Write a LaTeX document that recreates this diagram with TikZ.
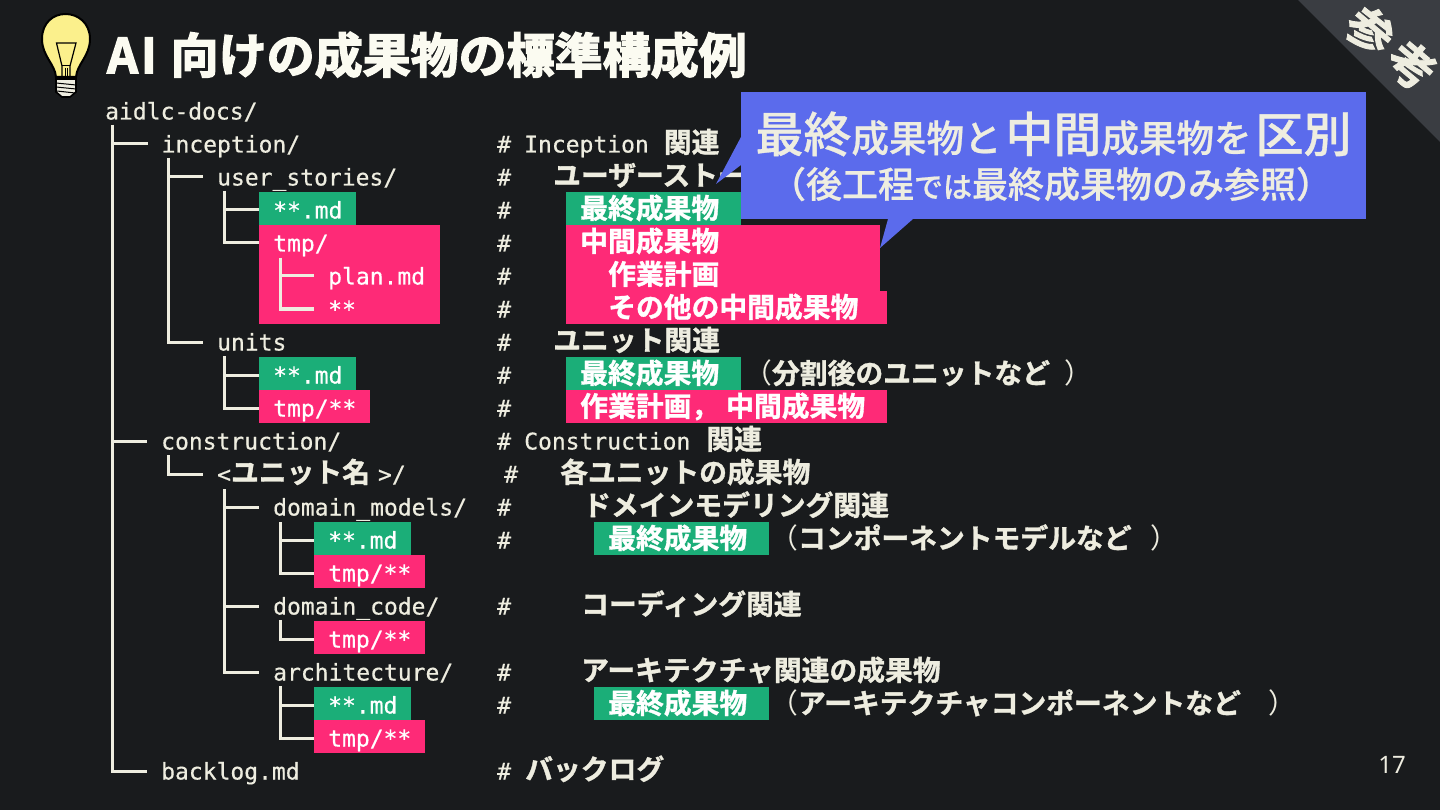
\documentclass[tikz,border=0pt]{standalone}
\usepackage{fontspec}
\usetikzlibrary{positioning}
\setmonofont[FakeBold=0.5]{DejaVu Sans Mono}
\newfontfamily\jpfont[FakeBold=1.2]{Noto Sans CJK JP Bold}
\newfontfamily\jplight{Noto Sans CJK JP}
\newfontfamily\jpcorner[FakeBold=2]{Noto Sans CJK JP Bold}
\newfontfamily\jptitle[FakeBold=3]{Noto Sans CJK JP Bold}
\newfontfamily\jpnote[FakeBold=0.7]{Noto Sans CJK JP Medium}
\newfontfamily\numfont{Noto Sans}
\newcommand{\jp}[1]{{\jpfont\fontsize{27.8}{33}\selectfont #1}}
\newcommand{\jpparen}[1]{{\jplight\fontsize{27.8}{33}\selectfont #1}}
\newcommand{\bignote}[1]{{\fontsize{48}{48}\selectfont #1}}
\newcommand{\branch}[2]{\draw[tree] (#1) |- ([yshift=-1.5pt]#2.west);}
\definecolor{slide}{HTML}{191B1D}
\definecolor{cream}{HTML}{EEEDE0}
\definecolor{titlecol}{HTML}{FBFBF1}
\definecolor{finalgreen}{HTML}{1BAE78}
\definecolor{tmppink}{HTML}{FE2A77}
\definecolor{notecol}{HTML}{5B6BEC}
\definecolor{cornercol}{HTML}{3A3D42}
\definecolor{bulbcol}{HTML}{FBF08C}
\tikzset{
  row/.style = {anchor=west, yshift=1.5pt, inner xsep=14pt, inner ysep=0pt, text height=26.5pt, text depth=6.5pt,
    text=cream, font=\ttfamily\fontsize{23}{33}\selectfont},
  finalbox/.style = {row, fill=finalgreen, text=white},
  tmpbox/.style = {row, fill=tmppink, text=white},
  tree/.style = {draw=cream, line width=3pt, line cap=butt, line join=miter},
  notetext/.style = {text=cream, inner sep=0pt, font=\jpnote\fontsize{37.5}{37.5}\selectfont},
}
\begin{document}
\begin{tikzpicture}[x=1pt, y=-1pt]
  \useasboundingbox (0,0) rectangle (1440,810);
  \fill[slide] (0,0) rectangle (1440,810);

  % corner
  \fill[cornercol] (1298,0) -- (1440,0) -- (1440,142) -- cycle;
  \node[text=cream, inner sep=0pt, rotate=-40, font=\jpcorner\fontsize{46}{46}\selectfont] (corner) at (1391,48) {参\hspace{8pt}考};

  % bulb
  \draw[black, line width=2pt, fill=bulbcol] (56,77) .. controls (55,64) and (42,56) .. (42,39)
    .. controls (42,23) and (53,14) .. (65.5,14) .. controls (78,14) and (90,23) .. (90,39)
    .. controls (90,56) and (77,64) .. (76,77) -- cycle;
  \draw[black, line width=1.2pt] (62,77) -- (62,66) -- (56.5,43) -- (76,43) -- (70,66) -- (70,77);
  \draw[black, line width=1pt] (62,66) -- (70,66) (65,68) -- (65,77) (67.5,68) -- (67.5,77);
  \draw[black, line width=1.6pt, fill=cream] (56,79) -- (76,79) -- (76,92) -- (70,97) -- (62,97) -- (56,92) -- cycle;
  \draw[black, line width=1pt] (56,83) -- (76,85) (56,87) -- (76,89) (57,91) -- (75,93);

  % title
  \node[anchor=west, inner sep=0pt, text=titlecol, font=\jptitle\fontsize{48}{48}\selectfont] (title) at (107,55) {A\kern3pt I\hspace{3pt} 向けの成果物の標準構成例};

  % file tree
  \node[row] (root) at (91,111) {aidlc-docs/};
  \node[row] (inception) at (147.5,144) {inception/};
  \node[row] (stories) at (203,177) {user\_stories/};
  \node[finalbox] (storiesmd) at (259,210) {**.md};
  \fill[tmppink] (259,225) rectangle (440,324);
  \node[row, text=white] (storiestmp) at (259,243) {tmp/};
  \node[row, text=white] (plan) at (314,276) {plan.md};
  \node[row, text=white] (other) at (314,309) {**};
  \node[row] (units) at (203,342) {units};
  \node[finalbox] (unitsmd) at (259,375) {**.md};
  \node[tmpbox] (unitstmp) at (259,408) {tmp/**};
  \node[row] (construction) at (147,441) {construction/};
  \node[row] (unitname) at (203,474) {<\jp{ユニット名}\hspace{8pt}>/};
  \node[row] (models) at (259,507) {domain\_models/};
  \node[finalbox] (modelsmd) at (314,540) {**.md};
  \node[tmpbox] (modelstmp) at (314,573) {tmp/**};
  \node[row] (code) at (259,606) {domain\_code/};
  \node[tmpbox] (codetmp) at (314,639) {tmp/**};
  \node[row] (arch) at (259,672) {architecture/};
  \node[finalbox] (archmd) at (314,705) {**.md};
  \node[tmpbox] (archtmp) at (314,738) {tmp/**};
  \node[row] (backlog) at (147,771) {backlog.md};

  \coordinate (rootstem) at (112,125);
  \coordinate (inceptionstem) at (168,158);
  \coordinate (storiesstem) at (224,191);
  \coordinate (tmpstem) at (280,258);
  \coordinate (unitsstem) at (224,356);
  \coordinate (constructionstem) at (168,455);
  \coordinate (namestem) at (224,489);
  \coordinate (modelsstem) at (280,522);
  \coordinate (codestem) at (280,620);
  \coordinate (archstem) at (280,686);

  \branch{rootstem}{inception}
  \branch{rootstem}{construction}
  \branch{rootstem}{backlog}
  \branch{inceptionstem}{stories}
  \branch{inceptionstem}{units}
  \branch{storiesstem}{storiesmd}
  \branch{storiesstem}{storiestmp}
  \branch{tmpstem}{plan}
  \branch{tmpstem}{other}
  \branch{unitsstem}{unitsmd}
  \branch{unitsstem}{unitstmp}
  \branch{constructionstem}{unitname}
  \branch{namestem}{models}
  \branch{namestem}{code}
  \branch{namestem}{arch}
  \branch{modelsstem}{modelsmd}
  \branch{modelsstem}{modelstmp}
  \branch{codestem}{codetmp}
  \branch{archstem}{archmd}
  \branch{archstem}{archtmp}

  % comments
  \foreach \y in {144,177,210,243,276,309,342,375,408,441,507,540,606,672,705,771}
    \node[row] (hash\y) at (483,\y) {\#};
  \node[row] (hash474) at (490,474) {\#};

  \node[row] (inceptionnote) at (510,144) {Inception\hspace{15pt}\jp{関連}};
  \node[row] (storiesnote) at (539,177) {\jp{ユーザーストー}};
  \node[finalbox, text width=147pt] (finalnote) at (566,210) {\jp{最終成果物}};
  \node[tmpbox, text width=286pt] (midnote) at (566,243) {\jp{中間成果物}};
  \node[tmpbox, text width=286pt] (plannote) at (566,276) {\hspace{28pt}\jp{作業計画}};
  \node[tmpbox, text width=293pt] (othernote) at (566,309) {\hspace{28pt}\jp{その他の中間成果物}};
  \node[row] (unitsnote) at (539,342) {\jp{ユニット関連}};
  \node[finalbox, text width=147pt] (finalunits) at (566,375) {\jp{最終成果物}};
  \node[row] (finalunitsex) at (730,375) {\jpparen{（}\jp{分割後のユニットなど}\hspace{14pt}\jpparen{）}};
  \node[tmpbox, text width=293pt] (tmpunits) at (566,408) {\jp{作業計画，\hspace{7pt}中間成果物}};
  \node[row] (constructionnote) at (510,441) {Construction\hspace{16pt}\jp{関連}};
  \node[row] (namenote) at (546,474) {\jp{各ユニットの成果物}};
  \node[row] (modelsnote) at (569,507) {\jp{ドメインモデリング関連}};
  \node[finalbox, text width=147pt] (finalmodels) at (594,540) {\jp{最終成果物}};
  \node[row] (finalmodelsex) at (756,540) {\jpparen{（}\jp{コンポーネントモデルなど}\hspace{19pt}\jpparen{）}};
  \node[row] (codenote) at (567,606) {\jp{コーディング関連}};
  \node[row] (archnote) at (567,672) {\jp{アーキテクチャ関連の成果物}};
  \node[finalbox, text width=147pt] (finalarch) at (594,705) {\jp{最終成果物}};
  \node[row] (finalarchex) at (756,705) {\jpparen{（}\jp{アーキテクチャコンポーネントなど}\hspace{28pt}\jpparen{）}};
  \node[row] (backlognote) at (511,771) {\jp{バックログ}};

  % callout
  \fill[notecol] (741,92) rectangle (1366,219);
  \fill[notecol] (741,137) -- (716,184) -- (741,165) -- cycle;
  \fill[notecol] (888,219) -- (880,248) -- (913,219) -- cycle;
  \node[notetext] (noteone) at (1053.5,134) {\bignote{最終}成果物と\hspace{4pt}\bignote{中間}成果物を\hspace{4pt}\bignote{区別}};
  \node[notetext, font=\jpnote\fontsize{36}{36}\selectfont] (notetwo) at (1051,184) {（後工程{\fontsize{29}{29}\selectfont では}最終成果物のみ参照）};

  % page number
  \node[text=cream, inner sep=0pt, font=\numfont\fontsize{24}{24}\selectfont] (page) at (1392,765) {17};
\end{tikzpicture}
\end{document}
